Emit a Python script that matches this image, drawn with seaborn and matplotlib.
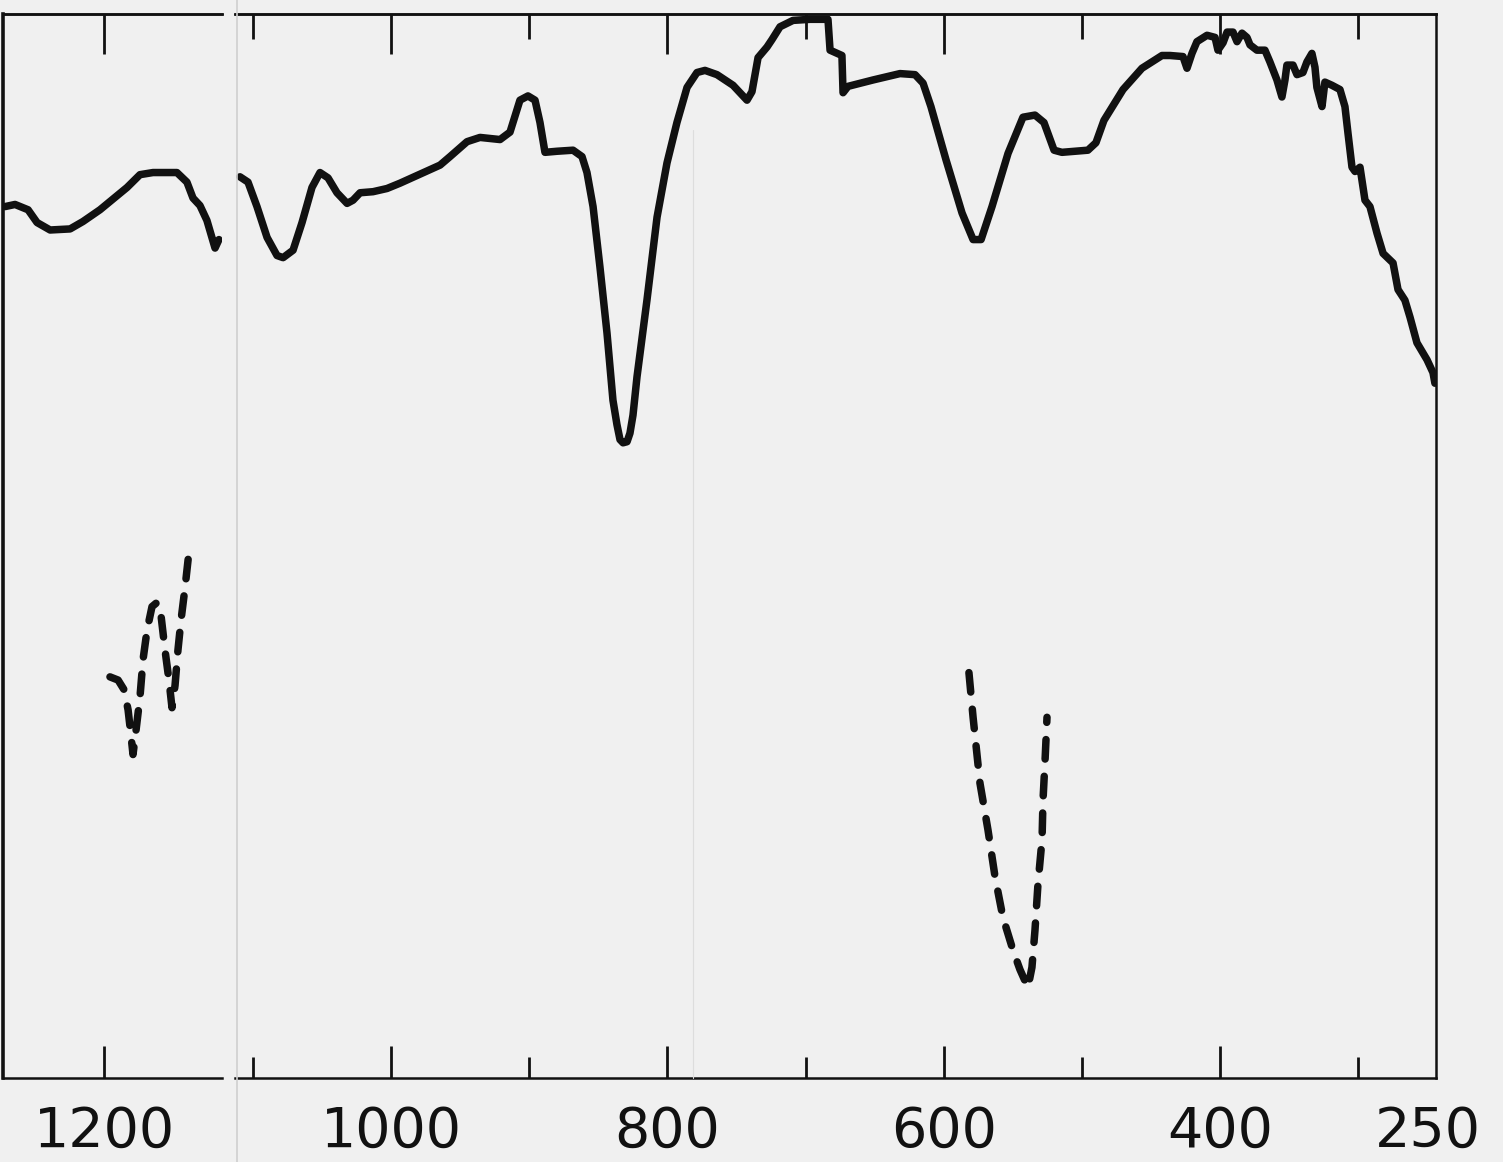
import numpy as np
import pandas as pd
import matplotlib
matplotlib.use("Agg")
import matplotlib.pyplot as plt
from matplotlib.lines import Line2D
import seaborn as sns

# ---------------- data (wavenumber cm-1, % transmittance) ----------------
# left chart strip (1270 - 1120 cm-1)
left_wn = [1268.3, 1261.4, 1252.4, 1246.2, 1237.2, 1223.4, 1214.5, 1202.8, 1184.1,
           1175.2, 1166.2, 1149.7, 1142.8, 1138.6, 1133.8, 1129.0, 1123.4, 1120.7]
left_T = [81.9, 82.1, 81.6, 80.4, 79.7, 79.8, 80.5, 81.6, 83.7,
          84.9, 85.1, 85.1, 84.2, 82.7, 82.0, 80.6, 78.0, 78.8]

# dashed reference trace in the left strip
left_ref_wn = [1195.9, 1190.3, 1186.2, 1183.4, 1181.4, 1180.0, 1177.9, 1175.2, 1173.1,
               1170.3, 1166.9, 1163.4, 1160.7, 1157.9, 1155.2, 1153.1, 1151.0, 1149.0,
               1146.9, 1144.1, 1140.7]
left_ref_T = [37.7, 37.4, 36.5, 34.6, 32.2, 30.4, 32.7, 35.8, 39.3,
              42.1, 44.3, 44.7, 43.5, 40.2, 37.4, 34.8, 36.9, 40.2,
              43.0, 46.1, 50.3]

# main chart (1110 - 245 cm-1)
main_wn = [1109.3, 1103.5, 1097.0, 1089.7, 1082.5, 1078.1, 1070.9, 1064.4, 1057.2, 1051.4,
           1045.6, 1039.1, 1031.8, 1027.5, 1022.4, 1013.0, 1002.9, 993.5, 964.5, 957.3,
           945.0, 935.6, 921.1, 913.9, 906.7, 900.9, 895.8, 892.2, 888.6, 879.9,
           868.3, 861.8, 858.2, 853.8, 848.8, 843.7, 839.4, 836.5, 834.3, 832.1,
           829.2, 827.1, 824.9, 822.0, 814.8, 807.5, 800.3, 793.1, 785.8, 778.6,
           772.8, 764.1, 752.5, 742.4, 738.8, 734.4, 727.9, 724.3, 718.5, 709.1,
           696.8, 683.8, 682.3, 673.7, 672.9, 669.3, 651.2, 631.7, 620.8, 615.0,
           609.3, 598.4, 586.8, 578.8, 573.0, 565.1, 553.5, 542.7, 534.0, 527.5,
           520.2, 514.5, 495.7, 489.9, 484.1, 470.3, 456.6, 442.1, 436.3, 426.9,
           424.0, 420.4, 416.8, 409.5, 403.7, 401.6, 397.9, 395.0, 390.7, 387.8,
           384.2, 380.6, 378.4, 373.4, 367.6, 364.0, 358.9, 355.3, 353.1, 351.7,
           347.3, 344.4, 340.1, 337.2, 333.6, 331.4, 330.0, 326.3, 324.2, 319.1,
           313.3, 309.7, 307.5, 304.6, 302.4, 298.8, 295.2, 291.6, 286.5, 282.1,
           274.9, 271.3, 266.3, 262.6, 257.6, 250.3, 246.0, 244.6]
main_T = [84.7, 84.2, 81.9, 79.0, 77.3, 77.1, 77.8, 80.4, 83.7, 85.1,
          84.6, 83.2, 82.2, 82.5, 83.2, 83.3, 83.6, 84.1, 85.8, 86.6,
          88.0, 88.4, 88.2, 88.9, 91.9, 92.3, 91.9, 89.8, 87.0, 87.1,
          87.2, 86.6, 85.1, 81.9, 76.2, 70.0, 63.7, 61.4, 60.0, 59.7,
          59.8, 60.6, 62.3, 65.9, 73.1, 80.9, 86.0, 89.8, 93.1, 94.5,
          94.7, 94.3, 93.3, 91.9, 92.7, 95.9, 96.9, 97.6, 98.8, 99.4,
          99.5, 99.5, 96.6, 96.1, 92.6, 93.2, 93.8, 94.4, 94.3, 93.5,
          91.3, 86.3, 81.3, 78.8, 78.8, 81.9, 86.9, 90.3, 90.5, 89.8,
          87.2, 87.0, 87.2, 87.9, 90.0, 92.9, 94.9, 96.1, 96.1, 96.0,
          94.9, 96.3, 97.4, 98.0, 97.8, 96.6, 97.3, 98.3, 98.3, 97.4,
          98.2, 97.8, 97.1, 96.6, 96.6, 95.5, 93.8, 92.2, 93.8, 95.2,
          95.2, 94.3, 94.5, 95.5, 96.3, 95.0, 93.1, 91.3, 93.6, 93.3,
          92.9, 91.3, 88.8, 85.6, 85.2, 85.6, 82.5, 81.9, 79.4, 77.5,
          76.6, 74.1, 73.1, 71.5, 69.1, 67.5, 66.3, 65.3]

# dashed reference trace in the main chart
main_ref_wn = [581.8, 578.8, 573.8, 568.0, 562.9, 557.2, 549.9, 544.9, 539.1,
               536.2, 534.0, 531.8, 528.9, 528.2, 526.7, 525.3]
main_ref_T = [38.1, 33.9, 27.7, 23.3, 18.9, 15.1, 12.0, 10.2, 8.5,
              10.4, 13.9, 18.3, 22.4, 26.1, 29.9, 33.9]

left_major = [1200]
main_major = [1000, 800, 600, 400]
main_minor = [1100, 900, 700, 500, 300]
main_labels = ["1000", "800", "600", "400"]
end_label_pos = 250
end_label = "250"

# ---------------- style ----------------
sns.set_theme(style="white")
plt.rcParams["font.family"] = ["DejaVu Sans"]
paper = "#f0f0f0"
ink = "#111111"

fig = plt.figure(figsize=(15.03, 11.62), dpi=100, facecolor=paper)
bottom, height = 0.07229, 0.91566
ax_l = fig.add_axes([0.002, bottom, 0.1457, height])
ax_r = fig.add_axes([0.15636, bottom, 0.79907, height])

df_left = pd.DataFrame({"wn": left_wn, "T": left_T})
df_left_ref = pd.DataFrame({"wn": left_ref_wn, "T": left_ref_T})
df_main = pd.DataFrame({"wn": main_wn, "T": main_T})
df_main_ref = pd.DataFrame({"wn": main_ref_wn, "T": main_ref_T})

solid_kw = dict(color=ink, linewidth=5.4, sort=False, estimator=None,
                solid_capstyle="round", solid_joinstyle="round")
dash_kw = dict(color=ink, linewidth=5.4, sort=False, estimator=None,
               dashes=False)

sns.lineplot(data=df_left, x="wn", y="T", ax=ax_l, **solid_kw)
sns.lineplot(data=df_main, x="wn", y="T", ax=ax_r, **solid_kw)
l1 = sns.lineplot(data=df_left_ref, x="wn", y="T", ax=ax_l, **dash_kw).lines[-1]
l2 = sns.lineplot(data=df_main_ref, x="wn", y="T", ax=ax_r, **dash_kw).lines[-1]
for ln in (l1, l2):
    ln.set_linestyle((0, (2.6, 2.3)))
    ln.set_dash_capstyle("round")

ax_l.set_xlim(1269.7, 1118.6)
ax_r.set_xlim(1112.9, 243.8)
for ax in (ax_l, ax_r):
    ax.set_ylim(0, 100)
    ax.set_facecolor(paper)
    ax.set_xlabel("")
    ax.set_ylabel("")
    ax.set_yticks([])
    for s in ax.spines.values():
        s.set_color(ink)
        s.set_linewidth(1.8)

ax_r.spines["left"].set_visible(False)
ax_l.spines["right"].set_visible(False)
ax_l.spines["left"].set_linewidth(2.6)

# bottom ticks (pointing inward/up)
ax_l.set_xticks(left_major)
ax_l.set_xticklabels(["1200"])
ax_r.set_xticks(main_major + [end_label_pos])
ax_r.set_xticklabels(main_labels + [end_label])
ax_r.set_xticks(main_minor, minor=True)
for ax in (ax_l, ax_r):
    ax.tick_params(axis="x", which="major", direction="in", length=23, width=2.0,
                   color=ink, pad=19, labelsize=40, labelcolor=ink,
                   bottom=True, top=False)
    ax.tick_params(axis="x", which="minor", direction="in", length=15, width=2.0,
                   color=ink, bottom=True, top=False)
ax_r.xaxis.get_major_ticks()[-1].tick1line.set_visible(False)

# top ticks (pointing inward/down)
for ax, majors, minors in ((ax_l, left_major, []), (ax_r, main_major, main_minor)):
    sec = ax.secondary_xaxis("top")
    sec.set_xticks(majors)
    sec.set_xticks(minors, minor=True)
    sec.tick_params(axis="x", which="major", direction="in", length=29, width=2.0,
                    color=ink, labeltop=False)
    sec.tick_params(axis="x", which="minor", direction="in", length=18, width=2.0,
                    color=ink, labeltop=False)
    sec.spines["top"].set_linewidth(1.8)
    sec.spines["top"].set_color(ink)

# paper edge of the joined chart strips and a faint grid fold
fig.add_artist(Line2D([237 / 1503, 237 / 1503], [0, 1], transform=fig.transFigure,
                      color="#cfcfcf", linewidth=1.2))
fig.add_artist(Line2D([693 / 1503, 693 / 1503], [1 - 1078 / 1162, 1 - 130 / 1162],
                      transform=fig.transFigure, color="#dddddd", linewidth=0.8))

fig.savefig("out.png", dpi=100, facecolor=paper)
